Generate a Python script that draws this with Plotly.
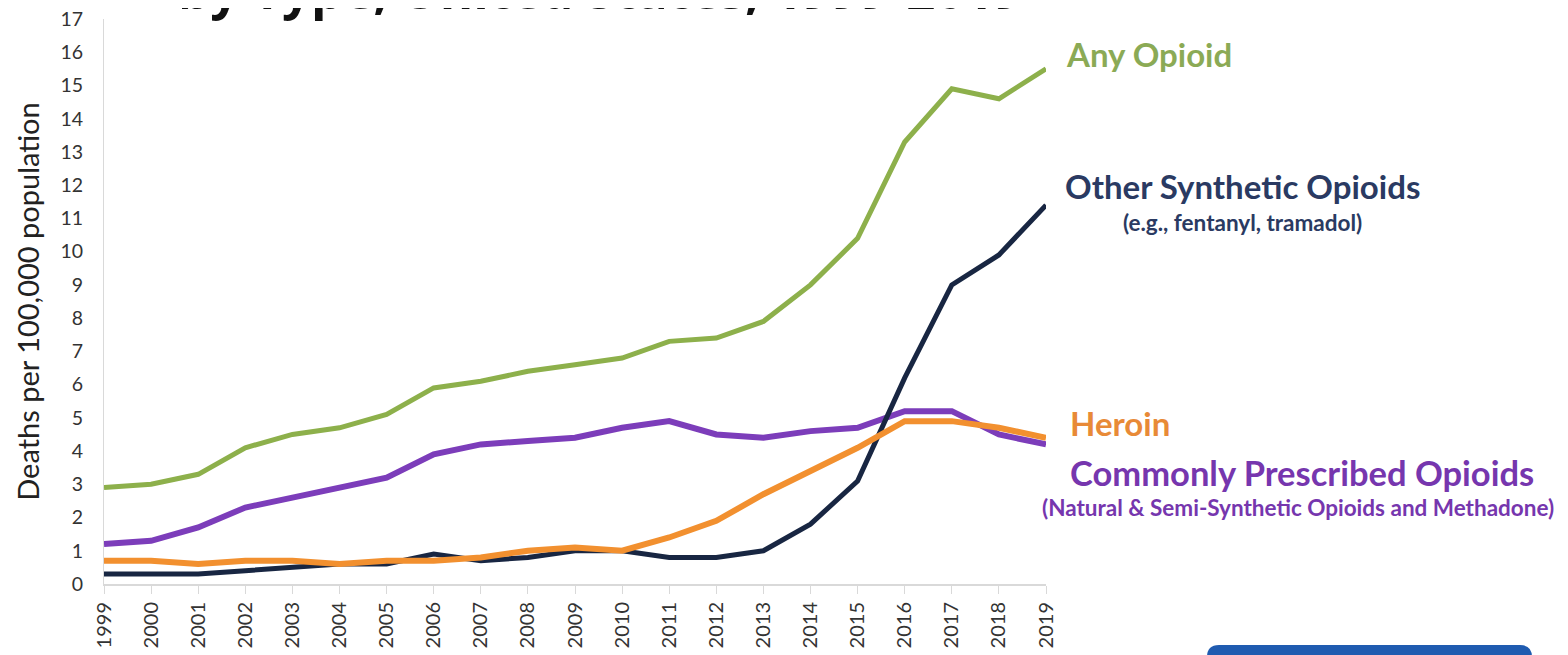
import plotly.graph_objects as go

years = list(range(1999, 2020))

any_opioid = [2.9, 3.0, 3.3, 4.1, 4.5, 4.7, 5.1, 5.9, 6.1, 6.4, 6.6, 6.8, 7.3, 7.4, 7.9, 9.0, 10.4, 13.3, 14.9, 14.6, 15.5]
synthetic = [0.3, 0.3, 0.3, 0.4, 0.5, 0.6, 0.6, 0.9, 0.7, 0.8, 1.0, 1.0, 0.8, 0.8, 1.0, 1.8, 3.1, 6.2, 9.0, 9.9, 11.4]
heroin = [0.7, 0.7, 0.6, 0.7, 0.7, 0.6, 0.7, 0.7, 0.8, 1.0, 1.1, 1.0, 1.4, 1.9, 2.7, 3.4, 4.1, 4.9, 4.9, 4.7, 4.4]
prescribed = [1.2, 1.3, 1.7, 2.3, 2.6, 2.9, 3.2, 3.9, 4.2, 4.3, 4.4, 4.7, 4.9, 4.5, 4.4, 4.6, 4.7, 5.2, 5.2, 4.5, 4.2]

green = "#8DB04B"
navy = "#182642"
orange = "#F2902F"
purple = "#7C3DBA"

W, H = 1568, 655
OFF = 8  # page body margin
# wanted plot box on screen: x 104..1046, y 19..584
L, T = 104 - OFF, 19 - OFF
R = W - (1046 - OFF)
B = H - (584 - OFF)

fig = go.Figure()
fig.add_trace(go.Scatter(x=years, y=any_opioid, mode="lines", line=dict(color=green, width=5), cliponaxis=False))
fig.add_trace(go.Scatter(x=years, y=prescribed, mode="lines", line=dict(color=purple, width=6), cliponaxis=False))
fig.add_trace(go.Scatter(x=years, y=synthetic, mode="lines", line=dict(color=navy, width=5), cliponaxis=False))
fig.add_trace(go.Scatter(x=years, y=heroin, mode="lines", line=dict(color=orange, width=6), cliponaxis=False))

pw = W - L - R
ph = H - T - B


# screen pixel -> paper coords
def px(xs):
    return (xs - OFF - L) / pw


def py(ys):
    return (H - B - (ys - OFF)) / ph


font_name = "Lato"
labels = [
    ("<b>Any Opioid</b>", 1064, 54, 33, "#8BAA55"),
    ("<b>Other Synthetic Opioids</b>", 1063, 186, 33, "#2A3A62"),
    ("<b>(e.g., fentanyl, tramadol)</b>", 1121, 222, 22.5, "#2A3A62"),
    ("<b>Heroin</b>", 1068, 423, 33, "#E88A37"),
    ("<b>Commonly Prescribed Opioids</b>", 1068, 472, 34.5, "#7636AE"),
    ("<b>(Natural &amp; Semi-Synthetic Opioids and Methadone)</b>", 1040, 507, 22.5, "#7636AE"),
]
annotations = []
for text, x, y, size, color in labels:
    annotations.append(dict(text=text, x=px(x), y=py(y), xref="paper", yref="paper",
                            xanchor="left", yanchor="middle", showarrow=False,
                            font=dict(family=font_name, size=size, color=color)))

# title line cut off at the top of the picture
annotations.append(dict(text="<b>by Type, United States, 1999-2019</b>", x=px(600), y=py(-11),
                        xref="paper", yref="paper", xanchor="center", yanchor="middle",
                        showarrow=False, font=dict(family="Open Sans", size=51, color="#111111")))

fig.update_layout(
    width=W, height=H,
    margin=dict(l=L, r=R, t=T, b=B, autoexpand=False),
    paper_bgcolor="white", plot_bgcolor="white",
    showlegend=False,
    annotations=annotations,
    shapes=[dict(type="path", xref="paper", yref="paper",
                 path="M {0},{1} L {0},{2} Q {0},{3} {4},{3} L {5},{3} Q {6},{3} {6},{2} L {6},{1} Z".format(
                     px(1207), py(680), py(657), py(645), px(1219), px(1520), px(1532)),
                 fillcolor="#1F5BB0", line=dict(width=0))],
    xaxis=dict(range=[1999, 2019], tickmode="array", tickvals=years, ticktext=[str(y) for y in years],
               tickangle=-90, showgrid=False, zeroline=False, showline=True, linecolor="#D9D9D9",
               linewidth=2, ticks="outside", ticklen=8, tickcolor="#D9D9D9", automargin=False,
               tickfont=dict(family=font_name, size=20, color="#333333")),
    yaxis=dict(range=[0, 17], dtick=1, showgrid=False, zeroline=False, showline=True,
               linecolor="#D9D9D9", linewidth=1, ticks="", ticklabelstandoff=16,
               ticklabeloverflow="allow", automargin=False,
               tickfont=dict(family=font_name, size=19.5, color="#333333"),
               title=dict(text="Deaths per 100,000 population", standoff=12,
                          font=dict(family=font_name, size=29, color="#222222"))),
)

fig.write_html("out.html")
